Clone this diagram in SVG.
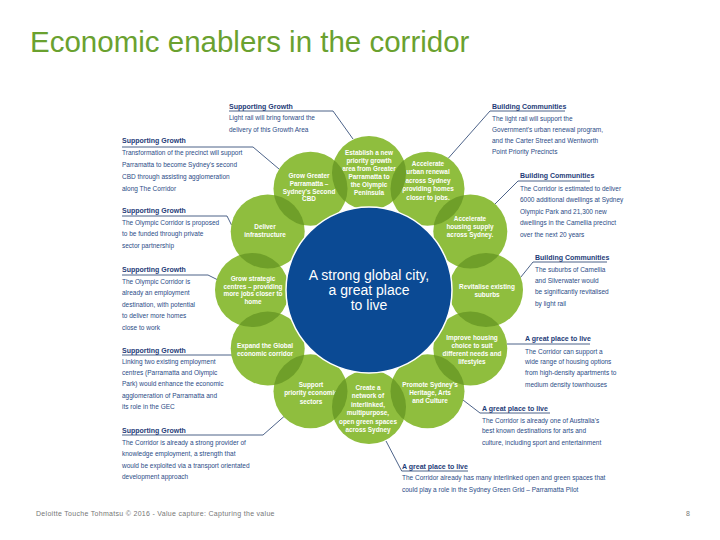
<svg xmlns="http://www.w3.org/2000/svg" xmlns:xlink="http://www.w3.org/1999/xlink" width="720" height="540" viewBox="0 0 720 540">
<style>
.title{font-family:"Liberation Sans",Arial,sans-serif;font-size:29.5px;fill:#6aa12f}
.hd{font-family:"Liberation Sans",Arial,sans-serif;font-size:7px;font-weight:bold;fill:#1e3c78}
.bd{font-family:"Liberation Sans",Arial,sans-serif;font-size:6.5px;fill:#2b4b86}
.pt{font-family:"Liberation Sans",Arial,sans-serif;font-size:6.4px;font-weight:bold;fill:#ffffff;text-anchor:middle}
.ct{font-family:"Liberation Sans",Arial,sans-serif;font-size:14px;fill:#ffffff;text-anchor:middle}
.ft{font-family:"Liberation Sans",Arial,sans-serif;font-size:7px;fill:#777777;letter-spacing:0.3px}
.petal{fill:#8fbe3e}
.ov{fill:#6f9f29}
.con{fill:none;stroke:#1f3b6b;stroke-width:0.8}
</style>
<defs>
<circle id="c0" cx="369" cy="173" r="37"/>
<circle id="c1" cx="427.5" cy="188.7" r="37"/>
<circle id="c2" cx="470.3" cy="231.5" r="37"/>
<circle id="c3" cx="486" cy="290" r="37"/>
<circle id="c4" cx="470.3" cy="348.5" r="37"/>
<circle id="c5" cx="427.5" cy="391.3" r="37"/>
<circle id="c6" cx="369" cy="407" r="37"/>
<circle id="c7" cx="310.5" cy="391.3" r="37"/>
<circle id="c8" cx="267.7" cy="348.5" r="37"/>
<circle id="c9" cx="252" cy="290" r="37"/>
<circle id="c10" cx="267.7" cy="231.5" r="37"/>
<circle id="c11" cx="310.5" cy="188.7" r="37"/>
<clipPath id="k0"><use xlink:href="#c0"/></clipPath>
<clipPath id="k1"><use xlink:href="#c1"/></clipPath>
<clipPath id="k2"><use xlink:href="#c2"/></clipPath>
<clipPath id="k3"><use xlink:href="#c3"/></clipPath>
<clipPath id="k4"><use xlink:href="#c4"/></clipPath>
<clipPath id="k5"><use xlink:href="#c5"/></clipPath>
<clipPath id="k6"><use xlink:href="#c6"/></clipPath>
<clipPath id="k7"><use xlink:href="#c7"/></clipPath>
<clipPath id="k8"><use xlink:href="#c8"/></clipPath>
<clipPath id="k9"><use xlink:href="#c9"/></clipPath>
<clipPath id="k10"><use xlink:href="#c10"/></clipPath>
<clipPath id="k11"><use xlink:href="#c11"/></clipPath>
</defs>
<rect width="720" height="540" fill="#ffffff"/>
<text class="title" x="30" y="52">Economic enablers in the corridor</text>

<g id="connectors">
<polyline class="con" points="229,111 333,111 353,139"/>
<polyline class="con" points="122,147 253,147 279,169"/>
<polyline class="con" points="122,216 227,216 231.5,225"/>
<polyline class="con" points="122,275 208,275 217,279.5"/>
<polyline class="con" points="122,355 232,355"/>
<polyline class="con" points="122,435 263,435 284,416.5"/>
<polyline class="con" points="565,111 490,111 448.5,158"/>
<polyline class="con" points="590,181 518,181 495,204"/>
<polyline class="con" points="607,262 533,262 520.5,277.5"/>
<polyline class="con" points="590,344 507,344"/>
<polyline class="con" points="550,413 480,413 463,400"/>
<polyline class="con" points="468,471 401.7,471 386,441"/>
</g>

<g id="n-establish"><use xlink:href="#c0" class="petal"/>
<text class="pt"><tspan x="369" y="155">Establish a new</tspan><tspan x="369" y="163">priority growth</tspan><tspan x="369" y="171">area from Greater</tspan><tspan x="369" y="179">Parramatta to</tspan><tspan x="369" y="187">the Olympic</tspan><tspan x="369" y="195">Peninsula</tspan></text></g>
<g id="n-urban"><use xlink:href="#c1" class="petal"/>
<text class="pt"><tspan x="428" y="165.5">Accelerate</tspan><tspan x="428" y="174">urban renewal</tspan><tspan x="428" y="182.5">across Sydney</tspan><tspan x="428" y="191">providing homes</tspan><tspan x="428" y="199.5">closer to jobs.</tspan></text></g>
<g id="n-housing"><use xlink:href="#c2" class="petal"/>
<text class="pt"><tspan x="470" y="220.5">Accelerate</tspan><tspan x="470" y="228.5">housing supply</tspan><tspan x="470" y="236.5">across Sydney.</tspan></text></g>
<g id="n-revitalise"><use xlink:href="#c3" class="petal"/>
<text class="pt"><tspan x="487" y="288.5">Revitalise existing</tspan><tspan x="487" y="296.5">suburbs</tspan></text></g>
<g id="n-improve"><use xlink:href="#c4" class="petal"/>
<text class="pt"><tspan x="472" y="339.5">Improve housing</tspan><tspan x="472" y="347.5">choice to suit</tspan><tspan x="472" y="355.5">different needs and</tspan><tspan x="472" y="363.5">lifestyles</tspan></text></g>
<g id="n-promote"><use xlink:href="#c5" class="petal"/>
<text class="pt"><tspan x="430" y="386.5">Promote Sydney's</tspan><tspan x="430" y="394.5">Heritage, Arts</tspan><tspan x="430" y="402.5">and Culture</tspan></text></g>
<g id="n-network"><use xlink:href="#c6" class="petal"/>
<text class="pt"><tspan x="368" y="389.5">Create a</tspan><tspan x="368" y="398">network of</tspan><tspan x="368" y="406.5">interlinked,</tspan><tspan x="368" y="415">multipurpose,</tspan><tspan x="368" y="423.5">open green spaces</tspan><tspan x="368" y="432">across Sydney</tspan></text></g>
<g id="n-support"><use xlink:href="#c7" class="petal"/>
<text class="pt"><tspan x="311" y="386.5">Support</tspan><tspan x="311" y="395">priority economic</tspan><tspan x="311" y="403.5">sectors</tspan></text></g>
<g id="n-expand"><use xlink:href="#c8" class="petal"/>
<text class="pt"><tspan x="265" y="347.5">Expand the Global</tspan><tspan x="265" y="355.5">economic corridor</tspan></text></g>
<g id="n-strategic"><use xlink:href="#c9" class="petal"/>
<text class="pt"><tspan x="253" y="280.5">Grow strategic</tspan><tspan x="253" y="288.5">centres – providing</tspan><tspan x="253" y="296">more jobs closer to</tspan><tspan x="253" y="303.5">home</tspan></text></g>
<g id="n-infra"><use xlink:href="#c10" class="petal"/>
<text class="pt"><tspan x="265" y="228.5">Deliver</tspan><tspan x="265" y="236.5">infrastructure</tspan></text></g>
<g id="n-parramatta"><use xlink:href="#c11" class="petal"/>
<text class="pt"><tspan x="309" y="177.5">Grow Greater</tspan><tspan x="309" y="185.5">Parramatta –</tspan><tspan x="309" y="193.5">Sydney's Second</tspan><tspan x="309" y="201">CBD</tspan></text></g>

<g id="overlaps">
<use xlink:href="#c1" class="ov" clip-path="url(#k0)"/>
<use xlink:href="#c2" class="ov" clip-path="url(#k1)"/>
<use xlink:href="#c3" class="ov" clip-path="url(#k2)"/>
<use xlink:href="#c4" class="ov" clip-path="url(#k3)"/>
<use xlink:href="#c5" class="ov" clip-path="url(#k4)"/>
<use xlink:href="#c6" class="ov" clip-path="url(#k5)"/>
<use xlink:href="#c7" class="ov" clip-path="url(#k6)"/>
<use xlink:href="#c8" class="ov" clip-path="url(#k7)"/>
<use xlink:href="#c9" class="ov" clip-path="url(#k8)"/>
<use xlink:href="#c10" class="ov" clip-path="url(#k9)"/>
<use xlink:href="#c11" class="ov" clip-path="url(#k10)"/>
<use xlink:href="#c0" class="ov" clip-path="url(#k11)"/>
</g>

<g id="n-centre">
<circle cx="369" cy="290" r="83" fill="#0b4a94" stroke="#ffffff" stroke-width="1.5"/>
<text class="ct"><tspan x="369" y="280">A strong global city,</tspan><tspan x="369" y="295">a great place</tspan><tspan x="369" y="310">to live</tspan></text>
</g>

<g id="t-sg1">
<text class="hd" x="229" y="109">Supporting Growth</text>
<text class="bd"><tspan x="229" y="120">Light rail will bring forward the</tspan><tspan x="229" y="132">delivery of this Growth Area</tspan></text>
</g>
<g id="t-sg2">
<text class="hd" x="122" y="142.5">Supporting Growth</text>
<text class="bd"><tspan x="122" y="155">Transformation of the precinct will support</tspan><tspan x="122" y="167">Parramatta to become Sydney's second</tspan><tspan x="122" y="179">CBD through assisting agglomeration</tspan><tspan x="122" y="191">along The Corridor</tspan></text>
</g>
<g id="t-sg3">
<text class="hd" x="122" y="212.5">Supporting Growth</text>
<text class="bd"><tspan x="122" y="225">The Olympic Corridor is proposed</tspan><tspan x="122" y="236">to be funded through private</tspan><tspan x="122" y="247.5">sector partnership</tspan></text>
</g>
<g id="t-sg4">
<text class="hd" x="122" y="272">Supporting Growth</text>
<text class="bd"><tspan x="122" y="283.5">The Olympic Corridor is</tspan><tspan x="122" y="295">already an employment</tspan><tspan x="122" y="306.5">destination, with potential</tspan><tspan x="122" y="318">to deliver more homes</tspan><tspan x="122" y="329.5">close to work</tspan></text>
</g>
<g id="t-sg5">
<text class="hd" x="122" y="352.5">Supporting Growth</text>
<text class="bd"><tspan x="122" y="364">Linking two existing employment</tspan><tspan x="122" y="375">centres (Parramatta and Olympic</tspan><tspan x="122" y="386">Park) would enhance the economic</tspan><tspan x="122" y="397.5">agglomeration of Parramatta and</tspan><tspan x="122" y="408.5">its role in the GEC</tspan></text>
</g>
<g id="t-sg6">
<text class="hd" x="122" y="432.5">Supporting Growth</text>
<text class="bd"><tspan x="122" y="445">The Corridor is already a strong provider of</tspan><tspan x="122" y="456">knowledge employment, a strength that</tspan><tspan x="122" y="467.5">would be exploited via a transport orientated</tspan><tspan x="122" y="478.5">development approach</tspan></text>
</g>
<g id="t-bc1">
<text class="hd" x="492" y="109">Building Communities</text>
<text class="bd"><tspan x="492" y="120.5">The light rail will support the</tspan><tspan x="492" y="131.5">Government's urban renewal program,</tspan><tspan x="492" y="142.5">and the Carter Street and Wentworth</tspan><tspan x="492" y="153.5">Point Priority Precincts</tspan></text>
</g>
<g id="t-bc2">
<text class="hd" x="520" y="177.5">Building Communities</text>
<text class="bd"><tspan x="520" y="190.5">The Corridor is estimated to deliver</tspan><tspan x="520" y="202">6000 additional dwellings at Sydney</tspan><tspan x="520" y="213.5">Olympic Park and 21,300 new</tspan><tspan x="520" y="225">dwellings in the Camellia precinct</tspan><tspan x="520" y="236.5">over the next 20 years</tspan></text>
</g>
<g id="t-bc3">
<text class="hd" x="535" y="260">Building Communities</text>
<text class="bd"><tspan x="535" y="272">The suburbs of Camellia</tspan><tspan x="535" y="283">and Silverwater would</tspan><tspan x="535" y="294">be significantly revitalised</tspan><tspan x="535" y="305.5">by light rail</tspan></text>
</g>
<g id="t-gp1">
<text class="hd" x="525" y="341">A great place to live</text>
<text class="bd"><tspan x="525" y="353.5">The Corridor can support a</tspan><tspan x="525" y="364">wide range of housing options</tspan><tspan x="525" y="375">from high-density apartments to</tspan><tspan x="525" y="386.5">medium density townhouses</tspan></text>
</g>
<g id="t-gp2">
<text class="hd" x="482" y="411">A great place to live</text>
<text class="bd"><tspan x="482" y="422.5">The Corridor is already one of Australia's</tspan><tspan x="482" y="433">best known destinations for arts and</tspan><tspan x="482" y="445">culture, including sport and entertainment</tspan></text>
</g>
<g id="t-gp3">
<text class="hd" x="402" y="469">A great place to live</text>
<text class="bd"><tspan x="402" y="480">The Corridor already has many interlinked open and green spaces that</tspan><tspan x="402" y="491.5">could play a role in the Sydney Green Grid – Parramatta Pilot</tspan></text>
</g>

<text class="ft" x="36" y="516">Deloitte Touche Tohmatsu © 2016 - Value capture: Capturing the value</text>
<text class="ft" x="686" y="516">8</text>
</svg>
